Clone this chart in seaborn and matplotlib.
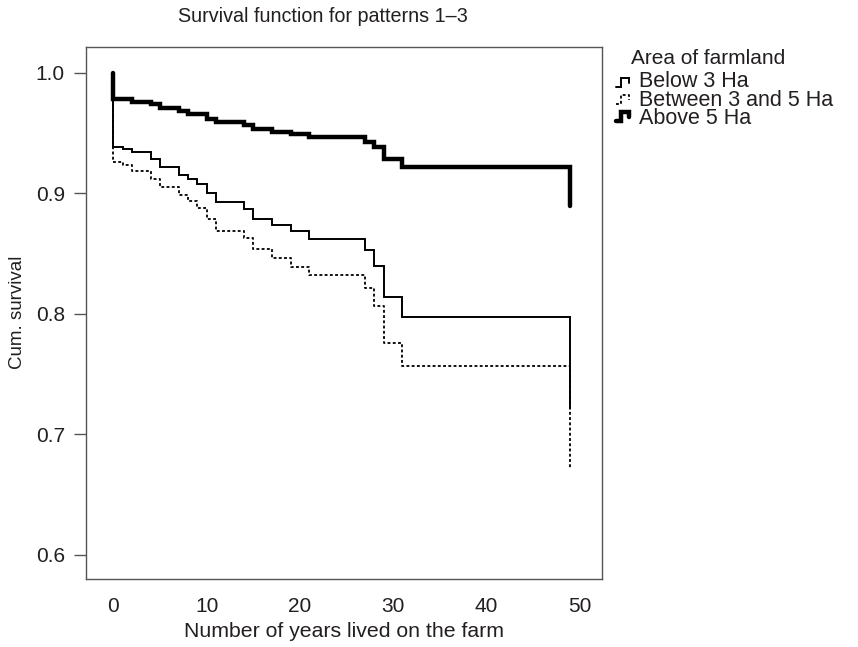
import numpy as np
import pandas as pd
import matplotlib
matplotlib.use("Agg")
import matplotlib.pyplot as plt
from matplotlib.lines import Line2D
import seaborn as sns

# ---- data ----
years = [0, 0, 1, 2, 4, 5, 7, 8, 9, 10, 11, 14, 15, 17, 19, 21, 27, 28, 29, 31, 49]
below_3 = [1.0, 0.9386, 0.9364, 0.9338, 0.9280, 0.9217, 0.9150, 0.9114, 0.9080, 0.9003,
           0.8929, 0.8873, 0.8785, 0.8740, 0.8685, 0.8616, 0.8527, 0.8397, 0.8135, 0.7973, 0.7213]
between_3_5 = [1.0, 0.9260, 0.9234, 0.9185, 0.9115, 0.9050, 0.8985, 0.8935, 0.8876, 0.8783,
               0.8688, 0.8631, 0.8533, 0.8460, 0.8390, 0.8317, 0.8210, 0.8060, 0.7755, 0.7567, 0.6714]
above_5 = [1.0, 0.9779, 0.9779, 0.9754, 0.9740, 0.9710, 0.9680, 0.9657, 0.9657, 0.9615,
           0.9588, 0.9570, 0.9530, 0.9510, 0.9490, 0.9469, 0.9427, 0.9380, 0.9280, 0.9220, 0.8890]
groups = ["Below 3 Ha", "Between 3 and 5 Ha", "Above 5 Ha"]
x_ticks = [0, 10, 20, 30, 40, 50]
y_ticks = [0.6, 0.7, 0.8, 0.9, 1.0]

df = pd.concat([
    pd.DataFrame({"years": years, "survival": vals, "group": g})
    for g, vals in zip(groups, [below_3, between_3_5, above_5])
], ignore_index=True)

sns.set_theme(style="white")
plt.rcParams["font.family"] = ["Liberation Sans", "DejaVu Sans"]

TXT = "#231f20"
W, H = 858, 647
fig = plt.figure(figsize=(W / 100, H / 100), dpi=100)
L, R, T, B = 85.7, 602, 46.5, 579
ax = fig.add_axes([L / W, 1 - B / H, (R - L) / W, (B - T) / H])

styles = {
    "Below 3 Ha": dict(linewidth=1.4, linestyle="-"),
    "Between 3 and 5 Ha": dict(linewidth=1.3, linestyle=(0, (1.6, 1.3))),
    "Above 5 Ha": dict(linewidth=3.2, linestyle="-"),
}

for g in groups:
    sub = df[df["group"] == g]
    sns.lineplot(data=sub, x="years", y="survival", ax=ax, estimator=None, sort=False,
                 color="black", drawstyle="steps-post", legend=False,
                 solid_joinstyle="miter", **styles[g])

ax.set_xlim(-2.96, 52.4)
ax.set_ylim(0.5797, 1.0218)
ax.set_xticks(x_ticks)
ax.set_xticklabels([str(v) for v in x_ticks])
ax.set_yticks(y_ticks)
ax.set_yticklabels([f"{v:.1f}" for v in y_ticks])

spine_col = "#555555"
for s in ax.spines.values():
    s.set_visible(True)
    s.set_color(spine_col)
    s.set_linewidth(1.0)

ax.tick_params(axis="y", left=True, direction="out", length=9, width=1.0, color=spine_col,
               pad=6, labelsize=15, labelcolor=TXT)
ax.tick_params(axis="x", bottom=False, length=0, pad=13, labelsize=15, labelcolor=TXT)

ax.set_xlabel("Number of years lived on the farm", fontsize=15.3, color=TXT)
ax.xaxis.set_label_coords(0.5, -0.080)
ax.set_ylabel("Cum. survival", fontsize=13.5, color=TXT)
ax.yaxis.set_label_coords(-0.116, 0.5)

fig.text(323 / W, 1 - 17 / H, "Survival function for patterns 1\u20133", ha="center", va="center",
         fontsize=14.2, color=TXT)


def fx(px):
    return px / W


def fy(py):
    return 1 - py / H


# legend: title, step-shaped keys and the three labels
fig.text(fx(631), fy(58), "Area of farmland", ha="left", va="center", fontsize=15, color=TXT)
row_y = [82, 99, 116]
for g, yc in zip(groups, row_y):
    xs = [616, 621, 621, 629, 629]
    ys = [yc + 5, yc + 5, yc - 4, yc - 4, yc + 1]
    fig.add_artist(Line2D([fx(v) for v in xs], [fy(v) for v in ys], transform=fig.transFigure,
                          color="black", solid_joinstyle="miter", **styles[g]))
fig.text(fx(639), fy(sum(row_y) / 3 + 1), "\n".join(groups), ha="left", va="center",
         fontsize=15.5, linespacing=0.83, color=TXT)

fig.savefig("out.png", dpi=100)
